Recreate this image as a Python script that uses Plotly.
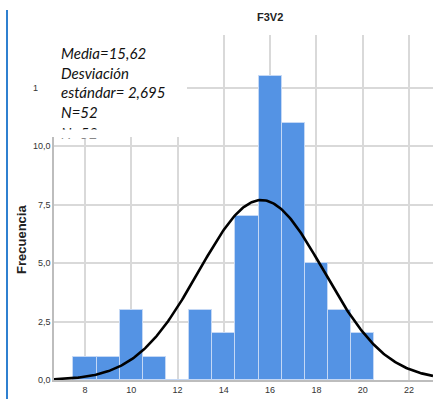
import numpy as np
import plotly.graph_objects as go

# Histogram of F3V2 (bin width 1, centred on integers)
bin_centers = [8, 9, 10, 11, 12, 13, 14, 15, 16, 17, 18, 19, 20]
counts = [1, 1, 3, 1, 0, 3, 2, 7, 13, 11, 5, 3, 2]

# Summary statistics shown in the legend box
media = 15.62
desviacion = 2.695
n_total = 52

x_ticks = [8, 10, 12, 14, 16, 18, 20, 22]
y_ticks = [0, 2.5, 5, 7.5, 10, 12.5]

# Page geometry (pixels)
W, H = 433, 399
ML, MR, MT, MB = 54, 0, 35, 19
PW, PH = W - ML - MR, H - MT - MB


def px_x(p):
    return (p - ML) / PW


def px_y(p):
    return (H - MB - p) / PH


x_min, x_max = 6.66, 23.04

# Fitted normal curve scaled to counts
xs = np.linspace(x_min, x_max, 300)
ys = n_total * 1.0 / (desviacion * np.sqrt(2 * np.pi)) * np.exp(-0.5 * ((xs - media) / desviacion) ** 2)

fig = go.Figure()
fig.add_trace(go.Bar(
    x=bin_centers, y=counts, width=1,
    marker=dict(color="#5493e4", line=dict(color="#c4d8f5", width=1)),
    hoverinfo="x+y",
))
fig.add_trace(go.Scatter(
    x=xs, y=ys, mode="lines",
    line=dict(color="black", width=2.6),
    hoverinfo="skip",
))

grid = "#d9d9d9"
tick_font = dict(family="Liberation Sans Narrow, Liberation Sans, Arial", size=9, color="#333333")

fig.update_layout(
    width=W, height=H,
    margin=dict(l=ML, r=MR, t=MT, b=MB),
    paper_bgcolor="white", plot_bgcolor="white",
    showlegend=False,
    separators=",.",
    bargap=0,
    xaxis=dict(
        range=[x_min, x_max], tickvals=x_ticks, ticks="",
        showgrid=True, gridcolor=grid, gridwidth=1.5,
        showline=True, linecolor="#bdbdbd", linewidth=1.5,
        zeroline=False, tickfont=tick_font,
    ),
    yaxis=dict(
        range=[0, 14.76], tickvals=y_ticks, tickformat=".1f", ticks="",
        showgrid=True, gridcolor=grid, gridwidth=1.5,
        showline=True, linecolor="#bdbdbd", linewidth=1.5,
        zeroline=False, tickfont=tick_font,
    ),
)

# White statistics box laid over the upper-left part of the plot
fig.add_shape(type="rect", xref="paper", yref="paper",
              x0=px_x(38), x1=px_x(187), y0=px_y(137), y1=px_y(-5),
              fillcolor="white", line=dict(width=0), layer="above")

# Blue margin rule on the left
fig.add_shape(type="line", xref="paper", yref="paper",
              x0=px_x(7), x1=px_x(7), y0=px_y(10), y1=px_y(400),
              line=dict(color="#2f80d0", width=2), layer="above")

stat_font = dict(family="Lato, Open Sans, sans-serif", size=15, color="#111111")
stat_lines = [
    (f"Media={media:.2f}".replace(".", ","), 53),
    ("Desviación", 73),
    (f"estándar= {desviacion:.3f}".replace(".", ","), 92),
    (f"N={n_total}", 112),
    (f"N={n_total}", 133),
]
for txt, yp in stat_lines:
    fig.add_annotation(text=f"<i>{txt}</i>", xref="paper", yref="paper",
                       x=px_x(59), y=px_y(yp), xanchor="left", yanchor="middle",
                       showarrow=False, font=stat_font)

# Mask the lower part of the repeated last line
fig.add_annotation(text=" ", xref="paper", yref="paper",
                   x=px_x(56), y=px_y(128.5), xanchor="left", yanchor="top",
                   width=50, height=8, bgcolor="white", borderpad=0,
                   showarrow=False, font=dict(size=6))

fig.add_annotation(text="<b>F3V2</b>", xref="paper", yref="paper",
                   x=px_x(270), y=px_y(17), xanchor="center", yanchor="middle",
                   showarrow=False,
                   font=dict(family="Liberation Sans, Arial", size=11, color="#222222"))

fig.add_annotation(text="<b>Frecuencia</b>", xref="paper", yref="paper",
                   x=px_x(21), y=px_y(240), xanchor="center", yanchor="middle",
                   textangle=-90, showarrow=False,
                   font=dict(family="Liberation Sans, Arial", size=13, color="#222222"))

fig.write_html("out.html")
